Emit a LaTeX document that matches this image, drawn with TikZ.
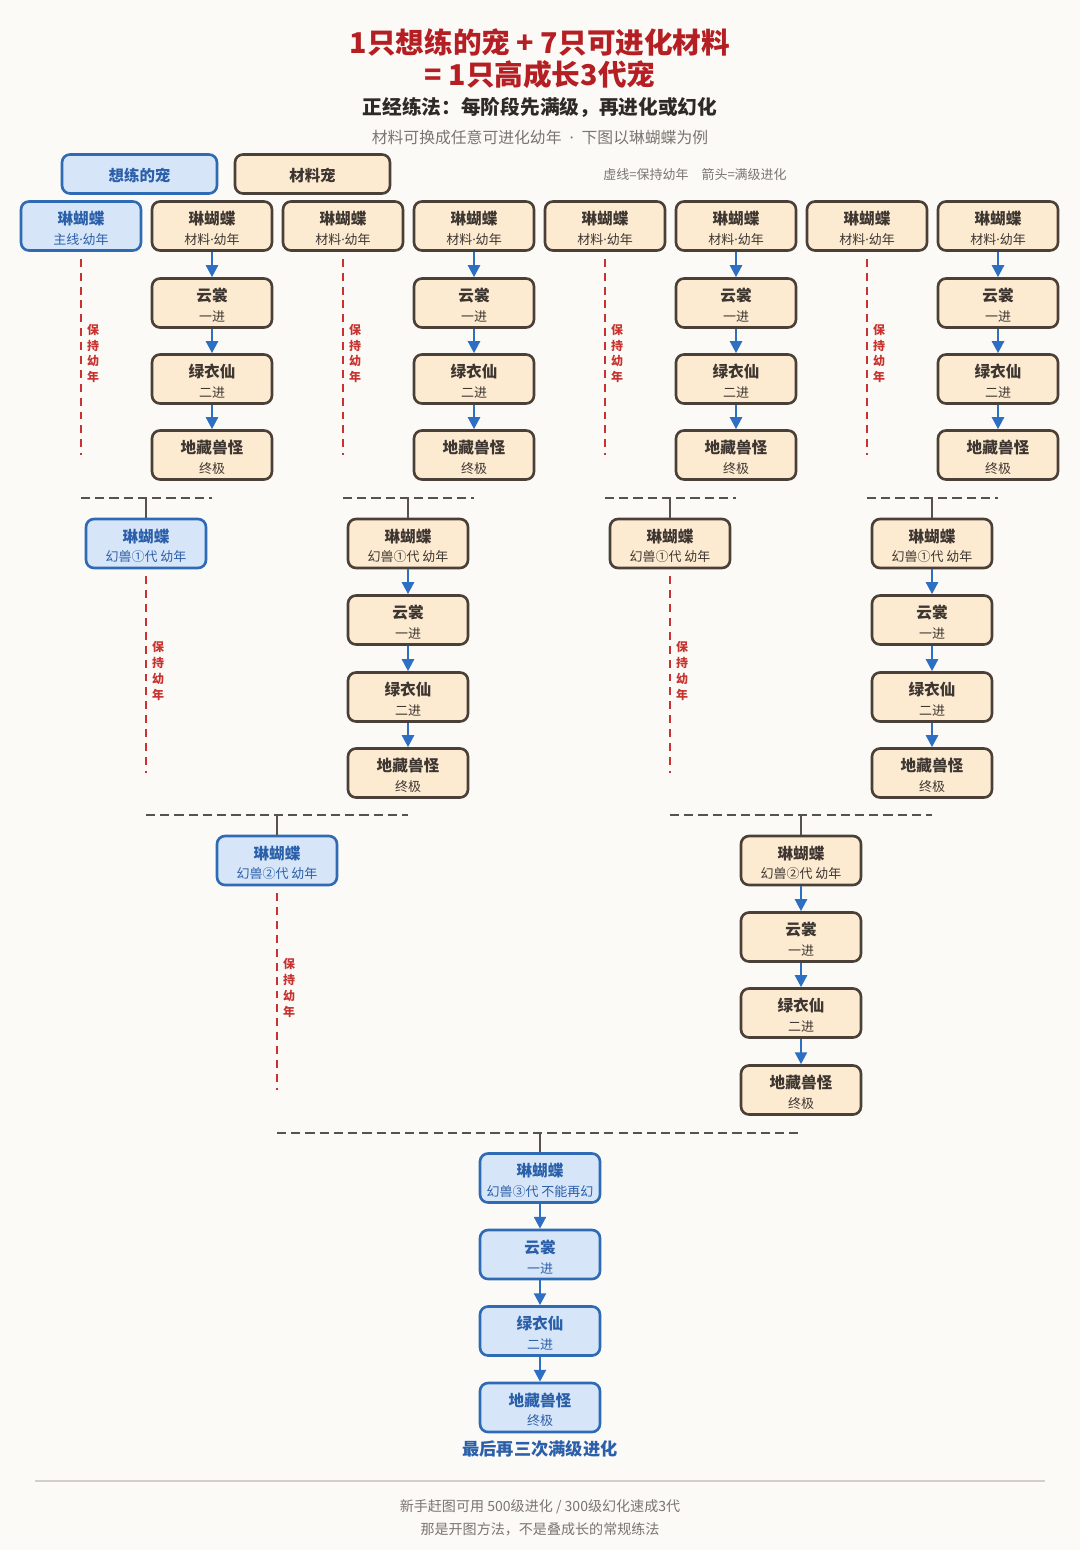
\documentclass[tikz,border=0pt]{standalone}
\usepackage{fontspec}
\setmainfont{Noto Sans CJK SC}
\newfontfamily\latinfont{Noto Sans}
\usetikzlibrary{arrows.meta,calc}

\definecolor{bgpaper}{HTML}{FBFAF6}
\definecolor{mainblue}{HTML}{2F6BB5}
\definecolor{mainfill}{HTML}{D6E6F8}
\definecolor{maintext}{HTML}{2B5FA9}
\definecolor{matline}{HTML}{4B4038}
\definecolor{matfill}{HTML}{FDEBD1}
\definecolor{mattext}{HTML}{3E3631}
\definecolor{evoblue}{HTML}{2D6FC2}
\definecolor{keepred}{HTML}{C8322F}
\definecolor{joingray}{HTML}{555250}
\definecolor{titlered}{HTML}{B51F24}
\definecolor{inkdark}{HTML}{2E2A27}
\definecolor{inkgray}{HTML}{7B7570}
\definecolor{rulegray}{HTML}{D3CFC9}

\newcommand{\pet}[2]{{\bfseries\rule{0pt}{10.3pt}#1}\\{\fontsize{7.4}{11.3}\selectfont #2}}
\newcommand{\midot}{{\latinfont ·}}

\tikzset{
  petbox/.style={rectangle, rounded corners=0.16cm, line width=1.5pt,
    minimum width=2.4cm, minimum height=0.98cm, inner sep=0pt, align=center,
    font=\fontsize{8.9}{11.3}\selectfont},
  mainpet/.style={petbox, draw=mainblue, fill=mainfill, text=maintext},
  matpet/.style={petbox, draw=matline, fill=matfill, text=mattext},
  legendbox/.style={minimum width=3.1cm, minimum height=0.78cm,
    font=\fontsize{8.8}{10}\selectfont\bfseries},
  evo/.style={evoblue, line width=1.4pt, -{Triangle[length=6.8pt,width=6.8pt]}},
  keep/.style={keepred, line width=1.5pt, dash pattern=on 4.5pt off 3.4pt, shorten <=4pt},
  keeptext/.style={text=keepred, font=\fontsize{6.8}{9}\selectfont\bfseries, align=center, inner sep=0pt},
  merge/.style={joingray, line width=1.4pt, dash pattern=on 5.2pt off 2.9pt},
  stem/.style={joingray, line width=1.4pt},
}

\begin{document}
\begin{tikzpicture}[x=0.02cm, y=-0.02cm]
  \fill[bgpaper] (0,0) rectangle (1080,1550);
  \useasboundingbox (0,0) rectangle (1080,1550);

  % titles
  \node[text=titlered, font=\fontsize{16.3}{18}\selectfont\bfseries] (t1) at (540,42) {1只想练的宠 + 7只可进化材料};
  \node[text=titlered, font=\fontsize{16.3}{18}\selectfont\bfseries] (t2) at (540,75) {= 1只高成长3代宠};
  \node[text=inkdark, font=\fontsize{11.2}{13}\selectfont\bfseries] (t3) at (540,107) {正经练法：每阶段先满级，再进化或幻化};
  \node[text=inkgray, font=\fontsize{9}{11}\selectfont] (t4) at (540,137) {材料可换成任意可进化幼年\enspace\midot\enspace 下图以琳蝴蝶为例};

  % legend
  \node[mainpet, legendbox] (lgmain) at (139.5,174) {\rule{0pt}{9.5pt}想练的宠};
  \node[matpet, legendbox] (lgmat) at (312.5,174) {\rule{0pt}{9.5pt}材料宠};
  \node[text=inkgray, font=\fontsize{7.4}{9}\selectfont] (lgkey) at (695,175) {虚线=保持幼年\quad 箭头=满级进化};

  % row 0
  \node[mainpet] (p) at (81,226) {\pet{琳蝴蝶}{主线\midot 幼年}};
  \node[matpet] (m1) at (212,226) {\pet{琳蝴蝶}{材料\midot 幼年}};
  \node[matpet] (m2) at (343,226) {\pet{琳蝴蝶}{材料\midot 幼年}};
  \node[matpet] (m3) at (474,226) {\pet{琳蝴蝶}{材料\midot 幼年}};
  \node[matpet] (m4) at (605,226) {\pet{琳蝴蝶}{材料\midot 幼年}};
  \node[matpet] (m5) at (736,226) {\pet{琳蝴蝶}{材料\midot 幼年}};
  \node[matpet] (m6) at (867,226) {\pet{琳蝴蝶}{材料\midot 幼年}};
  \node[matpet] (m7) at (998,226) {\pet{琳蝴蝶}{材料\midot 幼年}};

  \node[matpet] (m1y) at (212,303) {\pet{云裳}{一进}};
  \node[matpet] (m1l) at (212,379) {\pet{绿衣仙}{二进}};
  \node[matpet] (m1d) at (212,455) {\pet{地藏兽怪}{终极}};
  \node[matpet] (m3y) at (474,303) {\pet{云裳}{一进}};
  \node[matpet] (m3l) at (474,379) {\pet{绿衣仙}{二进}};
  \node[matpet] (m3d) at (474,455) {\pet{地藏兽怪}{终极}};
  \node[matpet] (m5y) at (736,303) {\pet{云裳}{一进}};
  \node[matpet] (m5l) at (736,379) {\pet{绿衣仙}{二进}};
  \node[matpet] (m5d) at (736,455) {\pet{地藏兽怪}{终极}};
  \node[matpet] (m7y) at (998,303) {\pet{云裳}{一进}};
  \node[matpet] (m7l) at (998,379) {\pet{绿衣仙}{二进}};
  \node[matpet] (m7d) at (998,455) {\pet{地藏兽怪}{终极}};

  \draw[evo] (m1)--(m1y);
  \draw[evo] (m1y)--(m1l);
  \draw[evo] (m1l)--(m1d);
  \draw[evo] (m3)--(m3y);
  \draw[evo] (m3y)--(m3l);
  \draw[evo] (m3l)--(m3d);
  \draw[evo] (m5)--(m5y);
  \draw[evo] (m5y)--(m5l);
  \draw[evo] (m5l)--(m5d);
  \draw[evo] (m7)--(m7y);
  \draw[evo] (m7y)--(m7l);
  \draw[evo] (m7l)--(m7d);

  \coordinate (pk) at (81,455);
  \coordinate (m2k) at (343,455);
  \coordinate (m4k) at (605,455);
  \coordinate (m6k) at (867,455);
  \draw[keep] (p)--(pk) node[keeptext, midway, xshift=0.24cm] {保\\持\\幼\\年};
  \draw[keep] (m2)--(m2k) node[keeptext, midway, xshift=0.24cm] {保\\持\\幼\\年};
  \draw[keep] (m4)--(m4k) node[keeptext, midway, xshift=0.24cm] {保\\持\\幼\\年};
  \draw[keep] (m6)--(m6k) node[keeptext, midway, xshift=0.24cm] {保\\持\\幼\\年};

  % first fusion
  \coordinate (j1) at (146,498);
  \coordinate (j2) at (408,498);
  \coordinate (j3) at (670,498);
  \coordinate (j4) at (932,498);
  \draw[merge] (p |- j1)--(m1 |- j1);
  \draw[merge] (m2 |- j2)--(m3 |- j2);
  \draw[merge] (m4 |- j3)--(m5 |- j3);
  \draw[merge] (m6 |- j4)--(m7 |- j4);

  \node[mainpet] (f1) at (146,543.5) {\pet{琳蝴蝶}{幻兽①代 幼年}};
  \node[matpet] (f2) at (408,543.5) {\pet{琳蝴蝶}{幻兽①代 幼年}};
  \node[matpet] (f3) at (670,543.5) {\pet{琳蝴蝶}{幻兽①代 幼年}};
  \node[matpet] (f4) at (932,543.5) {\pet{琳蝴蝶}{幻兽①代 幼年}};
  \draw[stem] (j1)--(f1);
  \draw[stem] (j2)--(f2);
  \draw[stem] (j3)--(f3);
  \draw[stem] (j4)--(f4);

  \node[matpet] (f2y) at (408,620) {\pet{云裳}{一进}};
  \node[matpet] (f2l) at (408,697) {\pet{绿衣仙}{二进}};
  \node[matpet] (f2d) at (408,773) {\pet{地藏兽怪}{终极}};
  \node[matpet] (f4y) at (932,620) {\pet{云裳}{一进}};
  \node[matpet] (f4l) at (932,697) {\pet{绿衣仙}{二进}};
  \node[matpet] (f4d) at (932,773) {\pet{地藏兽怪}{终极}};
  \draw[evo] (f2)--(f2y);
  \draw[evo] (f2y)--(f2l);
  \draw[evo] (f2l)--(f2d);
  \draw[evo] (f4)--(f4y);
  \draw[evo] (f4y)--(f4l);
  \draw[evo] (f4l)--(f4d);

  \coordinate (f1k) at (146,773);
  \coordinate (f3k) at (670,773);
  \draw[keep] (f1)--(f1k) node[keeptext, midway, xshift=0.24cm] {保\\持\\幼\\年};
  \draw[keep] (f3)--(f3k) node[keeptext, midway, xshift=0.24cm] {保\\持\\幼\\年};

  % second fusion
  \coordinate (k1) at (277,815);
  \coordinate (k2) at (801,815);
  \draw[merge] (f1 |- k1)--(f2 |- k1);
  \draw[merge] (f3 |- k2)--(f4 |- k2);

  \node[mainpet] (s1) at (277,860.5) {\pet{琳蝴蝶}{幻兽②代 幼年}};
  \node[matpet] (s2) at (801,860.5) {\pet{琳蝴蝶}{幻兽②代 幼年}};
  \draw[stem] (k1)--(s1);
  \draw[stem] (k2)--(s2);

  \node[matpet] (s2y) at (801,937) {\pet{云裳}{一进}};
  \node[matpet] (s2l) at (801,1013) {\pet{绿衣仙}{二进}};
  \node[matpet] (s2d) at (801,1090) {\pet{地藏兽怪}{终极}};
  \draw[evo] (s2)--(s2y);
  \draw[evo] (s2y)--(s2l);
  \draw[evo] (s2l)--(s2d);

  \coordinate (s1k) at (277,1090);
  \draw[keep] (s1)--(s1k) node[keeptext, midway, xshift=0.24cm] {保\\持\\幼\\年};

  % third fusion
  \coordinate (k3) at (540,1133);
  \draw[merge] (s1 |- k3)--(s2 |- k3);

  \node[mainpet] (tp) at (540,1178) {\pet{琳蝴蝶}{幻兽③代 不能再幻}};
  \node[mainpet] (ty) at (540,1254.5) {\pet{云裳}{一进}};
  \node[mainpet] (tl) at (540,1331) {\pet{绿衣仙}{二进}};
  \node[mainpet] (td) at (540,1407.5) {\pet{地藏兽怪}{终极}};
  \draw[stem] (k3)--(tp);
  \draw[evo] (tp)--(ty);
  \draw[evo] (ty)--(tl);
  \draw[evo] (tl)--(td);

  \node[text=maintext, font=\fontsize{9.8}{12}\selectfont\bfseries] (fin) at (540,1449) {最后再三次满级进化};

  % footer
  \draw[rulegray, line width=1.1pt] (35,1481)--(1045,1481);
  \node[text=inkgray, font=\fontsize{8}{10}\selectfont] (n1) at (540,1507) {新手赶图可用 500级进化 / 300级幻化速成3代};
  \node[text=inkgray, font=\fontsize{8}{10}\selectfont] (n2) at (540,1529) {那是开图方法，不是叠成长的常规练法};
\end{tikzpicture}
\end{document}
